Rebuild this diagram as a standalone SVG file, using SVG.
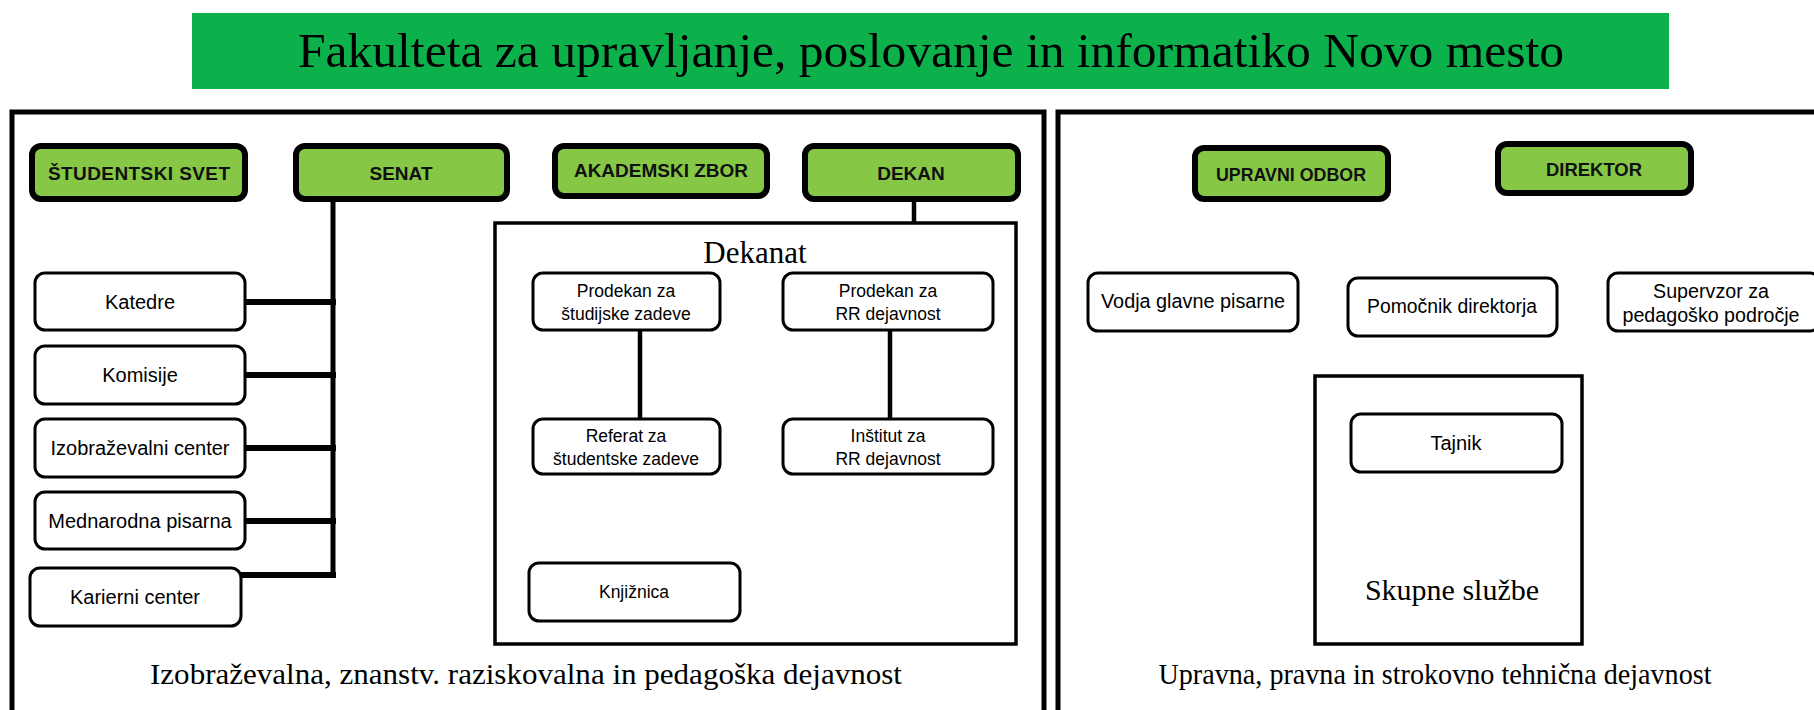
<svg xmlns="http://www.w3.org/2000/svg" width="1814" height="710" viewBox="0 0 1814 710">
<style>
.bg{fill:#ffffff}
.panel{fill:none;stroke:#000;stroke-width:5}
.frame{fill:none;stroke:#000;stroke-width:3.5}
.gbox{fill:#86C846;stroke:#000;stroke-width:6}
.wbox{fill:#fff;stroke:#000;stroke-width:3}
.gt{font-family:"Liberation Sans",Arial,sans-serif;font-weight:bold;font-size:19px;fill:#111;text-anchor:middle}
.wt{font-family:"Liberation Sans",Arial,sans-serif;font-size:20px;fill:#000;text-anchor:middle}
.dt{font-family:"Liberation Sans",Arial,sans-serif;font-size:17.5px;fill:#000;text-anchor:middle}
.st{font-family:"Liberation Serif","Times New Roman",serif;fill:#000;text-anchor:middle}
.conn{stroke:#000;fill:none}
</style>
<rect class="bg" x="0" y="0" width="1814" height="710"/>

<g id="title">
<rect x="192" y="13" width="1477" height="76" fill="#0DB14B"/>
<text class="st" x="931" y="67" font-size="48" textLength="1266" lengthAdjust="spacingAndGlyphs">Fakulteta za upravljanje, poslovanje in informatiko Novo mesto</text>
</g>

<g id="panel-left">
<path class="panel" d="M12,712 V112 H1044 V712"/>
<text class="st" x="526" y="684" font-size="30" textLength="752" lengthAdjust="spacingAndGlyphs">Izobraževalna, znanstv. raziskovalna in pedagoška dejavnost</text>
</g>
<g id="panel-right">
<path class="panel" d="M1058,712 V112 H1818"/>
<text class="st" x="1435" y="684" font-size="30" textLength="553" lengthAdjust="spacingAndGlyphs">Upravna, pravna in strokovno tehnična dejavnost</text>
</g>

<g id="connectors">
<line class="conn" stroke-width="5" x1="333" y1="197" x2="333" y2="577"/>
<line class="conn" stroke-width="6" x1="245" y1="302" x2="336" y2="302"/>
<line class="conn" stroke-width="6" x1="245" y1="375" x2="336" y2="375"/>
<line class="conn" stroke-width="6" x1="245" y1="448" x2="336" y2="448"/>
<line class="conn" stroke-width="6" x1="245" y1="521" x2="336" y2="521"/>
<line class="conn" stroke-width="6" x1="241" y1="575" x2="336" y2="575"/>
<line class="conn" stroke-width="4.5" x1="914" y1="197" x2="914" y2="223"/>
<line class="conn" stroke-width="4.5" x1="640" y1="330" x2="640" y2="419"/>
<line class="conn" stroke-width="4.5" x1="890" y1="330" x2="890" y2="419"/>
</g>

<g id="studentski-svet"><rect class="gbox" x="32" y="146" width="213" height="53" rx="9"/><text class="gt" x="139" y="180" textLength="182" lengthAdjust="spacing">ŠTUDENTSKI SVET</text></g>
<g id="senat"><rect class="gbox" x="296" y="146" width="211" height="53" rx="9"/><text class="gt" x="401" y="180">SENAT</text></g>
<g id="akademski-zbor"><rect class="gbox" x="555" y="146" width="212" height="50" rx="9"/><text class="gt" x="661" y="177">AKADEMSKI ZBOR</text></g>
<g id="dekan"><rect class="gbox" x="805" y="146" width="213" height="53" rx="9"/><text class="gt" x="911" y="180">DEKAN</text></g>

<g id="katedre"><rect class="wbox" x="35" y="273" width="210" height="57" rx="10"/><text class="wt" x="140" y="309">Katedre</text></g>
<g id="komisije"><rect class="wbox" x="35" y="346" width="210" height="58" rx="10"/><text class="wt" x="140" y="382">Komisije</text></g>
<g id="izobrazevalni-center"><rect class="wbox" x="35" y="419" width="210" height="58" rx="10"/><text class="wt" x="140" y="455">Izobraževalni center</text></g>
<g id="mednarodna-pisarna"><rect class="wbox" x="35" y="492" width="210" height="57" rx="10"/><text class="wt" x="140" y="528">Mednarodna pisarna</text></g>
<g id="karierni-center"><rect class="wbox" x="30" y="568" width="211" height="58" rx="10"/><text class="wt" x="135" y="604">Karierni center</text></g>

<g id="dekanat">
<rect class="frame" x="495" y="223" width="521" height="421"/>
<text class="st" x="755" y="263" font-size="31">Dekanat</text>
</g>
<g id="prodekan-studijske"><rect class="wbox" x="533" y="273" width="187" height="57" rx="10"/><text class="dt" x="626" y="297">Prodekan za</text><text class="dt" x="626" y="320">študijske zadeve</text></g>
<g id="prodekan-rr"><rect class="wbox" x="783" y="273" width="210" height="57" rx="10"/><text class="dt" x="888" y="297">Prodekan za</text><text class="dt" x="888" y="320">RR dejavnost</text></g>
<g id="referat"><rect class="wbox" x="533" y="419" width="187" height="55" rx="10"/><text class="dt" x="626" y="442">Referat za</text><text class="dt" x="626" y="465">študentske zadeve</text></g>
<g id="institut"><rect class="wbox" x="783" y="419" width="210" height="55" rx="10"/><text class="dt" x="888" y="442">Inštitut za</text><text class="dt" x="888" y="465">RR dejavnost</text></g>
<g id="knjiznica"><rect class="wbox" x="529" y="563" width="211" height="58" rx="10"/><text class="dt" x="634" y="598">Knjižnica</text></g>

<g id="upravni-odbor"><rect class="gbox" x="1195" y="148" width="193" height="51" rx="9"/><text class="gt" x="1291" y="181" textLength="150" lengthAdjust="spacingAndGlyphs">UPRAVNI ODBOR</text></g>
<g id="direktor"><rect class="gbox" x="1498" y="144" width="193" height="49" rx="9"/><text class="gt" x="1594" y="176" textLength="96" lengthAdjust="spacingAndGlyphs">DIREKTOR</text></g>

<g id="vodja-glavne-pisarne"><rect class="wbox" x="1088" y="273" width="210" height="58" rx="10"/><text class="wt" x="1193" y="308" textLength="184" lengthAdjust="spacingAndGlyphs">Vodja glavne pisarne</text></g>
<g id="pomocnik-direktorja"><rect class="wbox" x="1348" y="278" width="209" height="58" rx="10"/><text class="wt" x="1452" y="313" textLength="170" lengthAdjust="spacingAndGlyphs">Pomočnik direktorja</text></g>
<g id="supervzor"><rect class="wbox" x="1608" y="273" width="212" height="58" rx="10"/><text class="wt" x="1711" y="298" textLength="116" lengthAdjust="spacingAndGlyphs">Supervzor za</text><text class="wt" x="1711" y="322" textLength="177" lengthAdjust="spacingAndGlyphs">pedagoško področje</text></g>

<g id="skupne-sluzbe">
<rect class="frame" x="1315" y="376" width="267" height="268"/>
<text class="st" x="1452" y="600" font-size="30">Skupne službe</text>
</g>
<g id="tajnik"><rect class="wbox" x="1351" y="414" width="211" height="58" rx="10"/><text class="wt" x="1456" y="450">Tajnik</text></g>
</svg>
